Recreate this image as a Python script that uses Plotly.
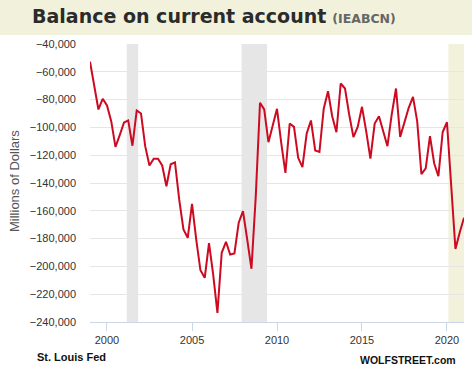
import pandas as pd
import plotly.graph_objects as go

# Quarterly balance on current account (millions of dollars), 1999Q1 - 2021Q1
values = [
    -52800, -70000, -87100, -79400,      # 1999
    -84200, -95500, -114000, -105500,    # 2000
    -96500, -95000, -113200, -87800,     # 2001
    -90000, -113500, -127400, -122600,   # 2002
    -122600, -127400, -142300, -126500,  # 2003
    -125200, -152000, -173400, -179400,  # 2004
    -155000, -180500, -202800, -208200,  # 2005
    -183300, -206000, -233400, -190200,  # 2006
    -182300, -191400, -190700, -168600,  # 2007
    -160300, -180600, -201700, -150000,  # 2008
    -82300, -87100, -110600, -98600,     # 2009
    -86600, -111000, -132700, -97200,    # 2010
    -99600, -121900, -128600, -104400,   # 2011
    -95000, -116600, -117600, -86600,    # 2012
    -74000, -92000, -103500, -68400,     # 2013
    -72000, -90700, -107000, -99600,     # 2014
    -85200, -102700, -122400, -97200,    # 2015
    -92000, -102700, -113500, -90700,    # 2016
    -72000, -106800, -96000, -85900,     # 2017
    -78000, -95500, -133600, -129500,    # 2018
    -106300, -125800, -135100, -103300,  # 2019
    -96300, -140000, -187500, -175600,   # 2020
    -165000,                             # 2021
]
start_date = "1999-01-01"
end_date = "2021-01-01"
dates = pd.date_range(start=start_date, periods=len(values), freq="QS")

recession_starts = ["2001-03-01", "2007-12-01", "2020-02-01"]
recession_ends = ["2001-11-01", "2009-06-01", "2021-01-10"]
recession_colors = ["#e6e6e6", "#e6e6e6", "#f2f2dc"]

y_ticks = list(range(-240000, -39999, 20000))
x_tick_years = ["2000-01-01", "2005-01-01", "2010-01-01", "2015-01-01", "2020-01-01"]
x_tick_text = ["2000", "2005", "2010", "2015", "2020"]

title_main = "Balance on current account"
title_code = "(IEABCN)"
y_title = "Millions of Dollars"
source_left = "St. Louis Fed"
source_right = "WOLFSTREET.com"

W, H = 472, 374
ML, MR, MT, MB = 90, 8, 44, 52
PW, PH = W - ML - MR, H - MT - MB

def px_x(px):
    return (px - ML) / PW

def px_y(py):
    return (H - MB - py) / PH

fig = go.Figure()
fig.add_trace(go.Scatter(
    x=dates, y=values, mode="lines",
    line=dict(color="#cc0a22", width=2),
    hoverinfo="skip", showlegend=False,
))

shapes = []
# title bar
shapes.append(dict(type="rect", xref="paper", yref="paper",
                   x0=px_x(-5), x1=px_x(W + 5), y0=px_y(35), y1=px_y(-5),
                   fillcolor="#f2f2dc", line=dict(width=0), layer="below"))
for s, e, c in zip(recession_starts, recession_ends, recession_colors):
    shapes.append(dict(type="rect", xref="x", yref="paper", x0=s, x1=e, y0=0, y1=1,
                       fillcolor=c, line=dict(width=0), layer="below"))

annotations = [
    dict(text=f"<b>{title_main}</b> <span style='font-size:12.5px;color:#666666'><b>{title_code}</b></span>",
         xref="paper", yref="paper", x=px_x(30), y=px_y(16), xanchor="left", yanchor="middle",
         showarrow=False, font=dict(family="DejaVu Sans", size=19, color="#2b2b2b")),
    dict(text=y_title, textangle=-90, xref="paper", yref="paper",
         x=px_x(14), y=px_y(181), xanchor="center", yanchor="middle",
         showarrow=False, font=dict(family="Liberation Sans", size=13, color="#555555")),
    dict(text=f"<b>{source_left}</b>", xref="paper", yref="paper",
         x=px_x(35), y=px_y(357), xanchor="left", yanchor="middle",
         showarrow=False, font=dict(family="Liberation Sans", size=11, color="#111111")),
    dict(text=f"<b>{source_right}</b>", xref="paper", yref="paper",
         x=px_x(457.5), y=px_y(360), xanchor="right", yanchor="middle",
         showarrow=False, font=dict(family="Liberation Sans", size=10.5, color="#111111")),
]

fig.update_layout(
    width=W, height=H,
    margin=dict(l=ML, r=MR, t=MT, b=MB, pad=0, autoexpand=False),
    paper_bgcolor="white", plot_bgcolor="white",
    shapes=shapes, annotations=annotations,
    font=dict(family="Liberation Sans", size=11, color="#333333"),
    xaxis=dict(
        type="date", range=[start_date, end_date], automargin=False,
        tickvals=x_tick_years, ticktext=x_tick_text,
        showgrid=False, zeroline=False,
        ticks="outside", ticklen=8, tickcolor="#ccd6eb", tickwidth=1,
        showline=True, linecolor="#ccd6eb", linewidth=1,
        tickfont=dict(family="Liberation Sans", size=11, color="#333333"),
    ),
    yaxis=dict(
        range=[-240000, -40000], tickvals=y_ticks, automargin=False,
        tickformat=",", showgrid=True, gridcolor="#e6e6e6", gridwidth=1,
        zeroline=False, showline=False, ticks="",
        ticklabelstandoff=13,
        tickfont=dict(family="Liberation Sans", size=11, color="#333333"),
    ),
)

fig.write_html(
    "out.html",
    config={"displayModeBar": False},
    post_script="document.body.style.margin='0px';document.body.style.overflow='hidden';",
)
